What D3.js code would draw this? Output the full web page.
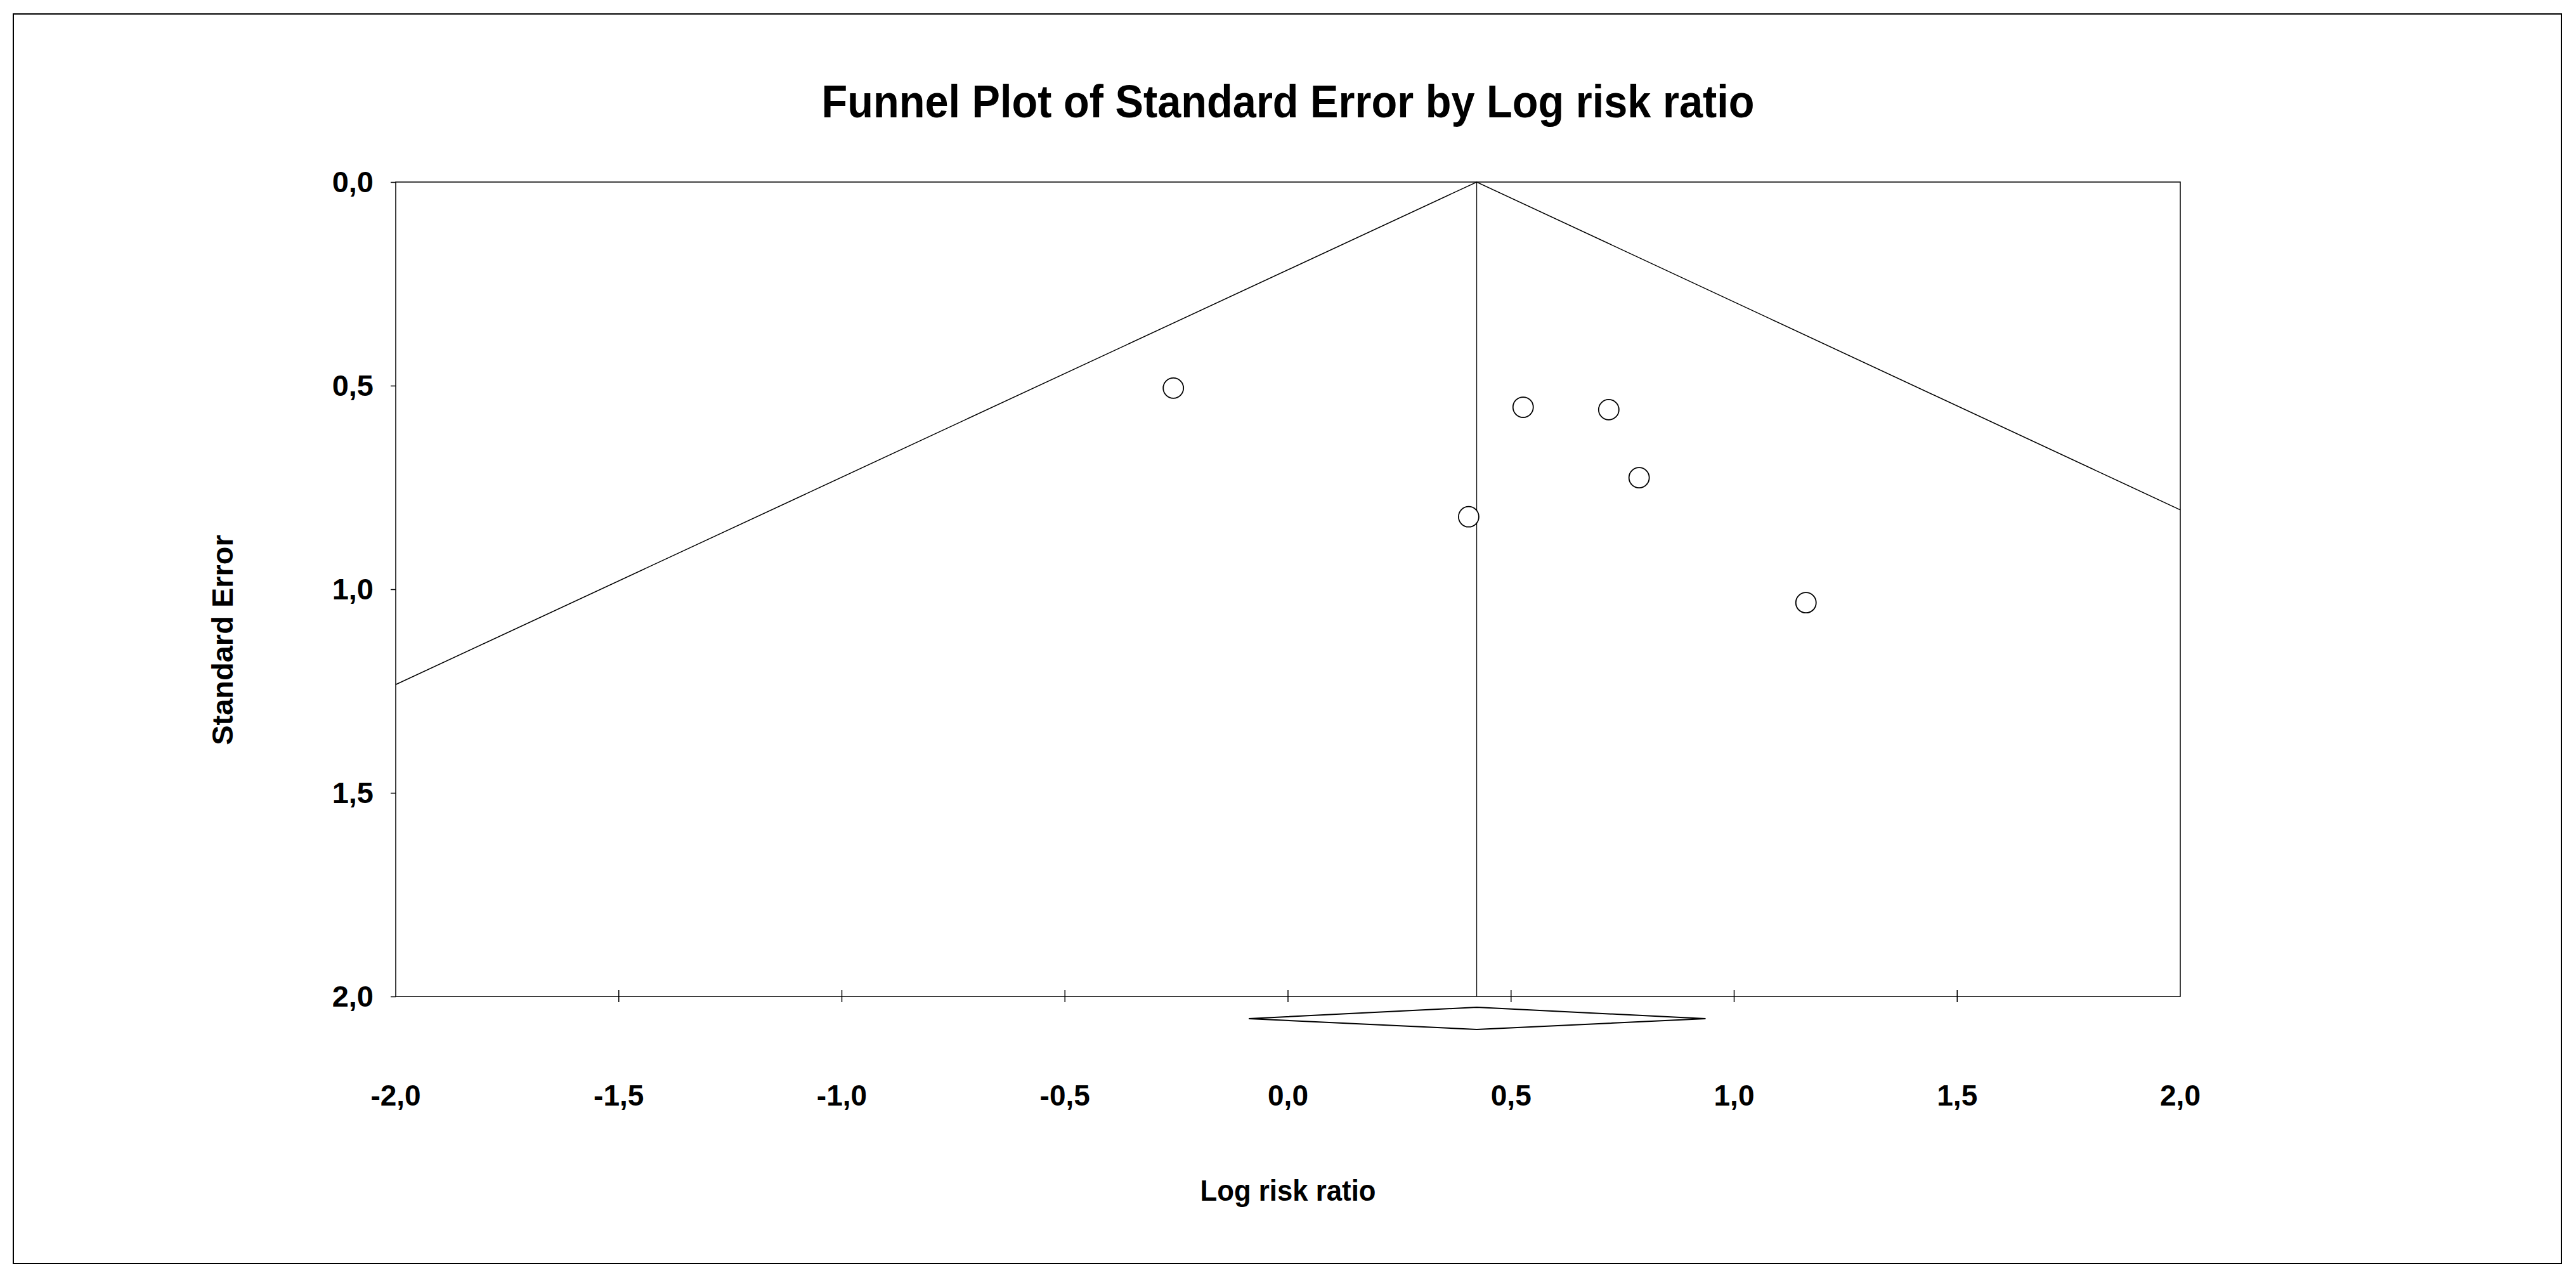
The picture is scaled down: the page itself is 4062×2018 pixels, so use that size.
<!DOCTYPE html>
<html>
<head>
<meta charset="utf-8">
<script src="https://cdn.jsdelivr.net/npm/d3@7"></script>
<style>
  html, body { margin: 0; padding: 0; background: #fff; }
  text { font-family: "Liberation Sans", Arial, sans-serif; font-weight: bold; fill: #000; }
</style>
</head>
<body>
<div id="chart"></div>
<script>
// study points
var logRiskRatio = [-0.257, 0.527, 0.719, 0.787, 0.405, 1.161];
var standardError = [0.506, 0.553, 0.559, 0.726, 0.822, 1.033];

// pooled estimate and its interval (diamond)
var pooled = {estimate: 0.423, lower: -0.088, upper: 0.936};

// funnel outline: left end, apex, right end
var funnelX = [-2.0, 0.423, 2.0];
var funnelY = [1.234, 0.0, 0.805];

var xTicks = [-2.0, -1.5, -1.0, -0.5, 0.0, 0.5, 1.0, 1.5, 2.0];
var yTicks = [0.0, 0.5, 1.0, 1.5, 2.0];

var svgWidth = 4062, svgHeight = 2018;
var margin = {top: 287, right: 624, bottom: 447, left: 624};
var chartWidth = 3438 - margin.left;
var chartHeight = 1571 - margin.top;

var locale = d3.formatLocale({decimal: ",", thousands: ".", grouping: [3], currency: ["", ""], minus: "-"});
var fmt = locale.format(".1f");

var svg = d3.select("#chart")
  .append("svg")
  .attr("width", svgWidth)
  .attr("height", svgHeight);

// outer frame
svg.append("rect")
  .attr("x", 21).attr("y", 22)
  .attr("width", 4039 - 21).attr("height", 1992 - 22)
  .attr("fill", "none").attr("stroke", "#000").attr("stroke-width", 2);

svg.append("text")
  .attr("x", margin.left + chartWidth / 2)
  .attr("y", 185)
  .attr("text-anchor", "middle")
  .attr("font-size", 72)
  .attr("textLength", 1471)
  .attr("lengthAdjust", "spacingAndGlyphs")
  .text("Funnel Plot of Standard Error by Log risk ratio");

var x = d3.scaleLinear().domain([-2, 2]).range([0, chartWidth]);
var y = d3.scaleLinear().domain([0, 2]).range([0, chartHeight]);

var chartGroup = svg.append("g")
  .attr("transform", `translate(${margin.left}, ${margin.top})`);

// plot box
chartGroup.append("rect")
  .attr("width", chartWidth).attr("height", chartHeight)
  .attr("fill", "none").attr("stroke", "#000").attr("stroke-width", 1.5);

// y axis ticks and labels
var yAxis = d3.axisLeft(y).tickValues(yTicks).tickFormat(fmt).tickSize(8).tickPadding(27);
var yAxisG = chartGroup.append("g").call(yAxis);
yAxisG.select(".domain").remove();
yAxisG.selectAll("line").attr("stroke", "#000").attr("stroke-width", 1.5);
yAxisG.selectAll("text")
  .attr("font-size", 47)
  .attr("font-family", '"Liberation Sans", Arial, sans-serif')
  .attr("font-weight", "bold");

// x axis: ticks crossing the bottom edge
var xAxisG = chartGroup.append("g").attr("transform", `translate(0, ${chartHeight})`);
xAxisG.selectAll("line.tick")
  .data(xTicks.filter(function(d) { return d > -2 && d < 2; }))
  .enter().append("line")
  .attr("class", "tick")
  .attr("x1", function(d) { return x(d); })
  .attr("x2", function(d) { return x(d); })
  .attr("y1", -10).attr("y2", 9)
  .attr("stroke", "#000").attr("stroke-width", 1.5);
xAxisG.selectAll("text")
  .data(xTicks)
  .enter().append("text")
  .attr("x", function(d) { return x(d); })
  .attr("y", 172)
  .attr("text-anchor", "middle")
  .attr("font-size", 46)
  .text(function(d) { return fmt(d); });

// funnel
var line = d3.line()
  .x(function(d) { return x(d[0]); })
  .y(function(d) { return y(d[1]); });
chartGroup.append("path")
  .datum(d3.zip(funnelX, funnelY))
  .attr("d", line)
  .attr("fill", "none").attr("stroke", "#000").attr("stroke-width", 1.5);

// pooled estimate line
chartGroup.append("line")
  .attr("x1", x(pooled.estimate)).attr("x2", x(pooled.estimate))
  .attr("y1", y(0)).attr("y2", y(2))
  .attr("stroke", "#000").attr("stroke-width", 1.2);

// studies
chartGroup.selectAll("circle")
  .data(d3.zip(logRiskRatio, standardError))
  .enter().append("circle")
  .attr("cx", function(d) { return x(d[0]); })
  .attr("cy", function(d) { return y(d[1]); })
  .attr("r", 16)
  .attr("fill", "#fff").attr("stroke", "#000").attr("stroke-width", 1.8);

// diamond below the axis
var dTop = chartHeight + 17, dMid = chartHeight + 35, dBot = chartHeight + 52;
chartGroup.append("path")
  .attr("d", `M${x(pooled.lower)},${dMid} L${x(pooled.estimate)},${dTop} L${x(pooled.upper)},${dMid} L${x(pooled.estimate)},${dBot} Z`)
  .attr("fill", "none").attr("stroke", "#000").attr("stroke-width", 2);

// axis titles
svg.append("text")
  .attr("x", margin.left + chartWidth / 2)
  .attr("y", 1893)
  .attr("text-anchor", "middle")
  .attr("font-size", 46)
  .attr("textLength", 277)
  .attr("lengthAdjust", "spacingAndGlyphs")
  .text("Log risk ratio");

svg.append("text")
  .attr("transform", "translate(367, 1009) rotate(-90)")
  .attr("text-anchor", "middle")
  .attr("font-size", 47)
  .text("Standard Error");
</script>
</body>
</html>
